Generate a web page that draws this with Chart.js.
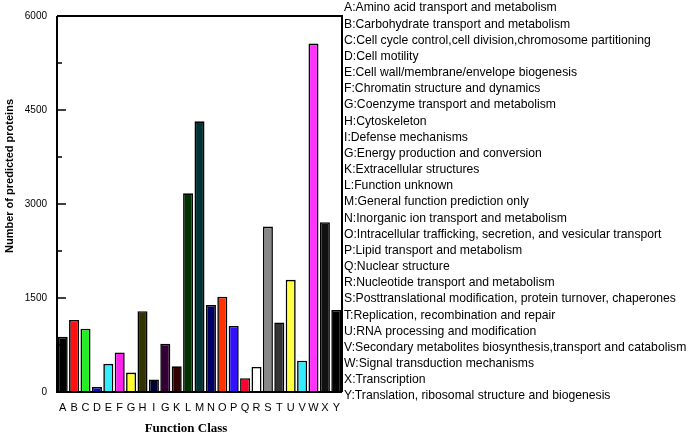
<!DOCTYPE html>
<html><head><meta charset="utf-8">
<script src="https://cdn.jsdelivr.net/npm/chart.js@4/dist/chart.umd.min.js"></script>
<style>html,body{margin:0;padding:0;background:#fff;}#wrap{width:697px;height:436px;position:relative;}</style>
</head><body><div id="wrap"><canvas id="c" width="697" height="436"></canvas></div>
<script>
const categories = ["A","B","C","D","E","F","G","H","I","G","K","L","M","N","O","P","Q","R","S","T","U","V","W","X","Y"];
const values = [880,1150,1010,80,450,630,310,1290,200,770,410,3170,4320,1390,1520,1055,220,400,2640,1110,1790,500,5560,2710,1310];
const barColors = ["#000000","#ff1111","#22ee22","#0a0acc","#33eeff","#ff22ee","#ffff33","#333300","#000033","#330033","#330000","#003300","#003333","#000066","#ff3300","#3311ff","#ff0033","#ffffff","#888888","#333333","#ffff44","#33eeff","#ff33ff","#111111","#000000"];
const yTicks = [0,1500,3000,4500,6000];
const minorTicks = [750,2250,3750,5250];
const legendLines = [
"A:Amino acid transport and metabolism",
"B:Carbohydrate transport and metabolism",
"C:Cell cycle control,cell division,chromosome partitioning",
"D:Cell motility",
"E:Cell wall/membrane/envelope biogenesis",
"F:Chromatin structure and dynamics",
"G:Coenzyme transport and metabolism",
"H:Cytoskeleton",
"I:Defense mechanisms",
"G:Energy production and conversion",
"K:Extracellular structures",
"L:Function unknown",
"M:General function prediction only",
"N:Inorganic ion transport and metabolism",
"O:Intracellular trafficking, secretion, and vesicular transport",
"P:Lipid transport and metabolism",
"Q:Nuclear structure",
"R:Nucleotide transport and metabolism",
"S:Posttranslational modification, protein turnover, chaperones",
"T:Replication, recombination and repair",
"U:RNA processing and modification",
"V:Secondary metabolites biosynthesis,transport and catabolism",
"W:Signal transduction mechanisms",
"X:Transcription",
"Y:Translation, ribosomal structure and biogenesis"];
const yTitle = "Number of predicted proteins";
const xTitle = "Function Class";

const decor = {
  id: 'decor',
  afterDraw(chart) {
    const ctx = chart.ctx, a = chart.chartArea, ys = chart.scales.y;
    ctx.save();
    ctx.strokeStyle = '#000';
    ctx.lineWidth = 2;
    ctx.beginPath();
    ctx.moveTo(a.left, a.top); ctx.lineTo(a.right, a.top); ctx.lineTo(a.right, a.bottom);
    ctx.moveTo(a.left, a.top); ctx.lineTo(a.left, a.bottom); ctx.lineTo(a.right, a.bottom);
    ctx.stroke();
    ctx.lineWidth = 1.5;
    ctx.beginPath();
    yTicks.forEach(v => { const y = ys.getPixelForValue(v); ctx.moveTo(a.left, y); ctx.lineTo(a.left + 9, y); });
    minorTicks.forEach(v => { const y = ys.getPixelForValue(v); ctx.moveTo(a.left, y); ctx.lineTo(a.left + 5, y); });
    ctx.stroke();
    ctx.fillStyle = '#000';
    ctx.font = 'bold 11px "Liberation Sans", Arial, sans-serif';
    ctx.textAlign = 'center'; ctx.textBaseline = 'middle';
    ctx.translate(10, 176); ctx.rotate(-Math.PI/2);
    ctx.fillText(yTitle, 0, 0);
    ctx.setTransform(1,0,0,1,0,0);
    ctx.font = 'bold 13px "Liberation Serif", "Times New Roman", serif';
    ctx.fillText(xTitle, 186, 429);
    ctx.font = '12.2px "Liberation Sans", Arial, sans-serif';
    ctx.textAlign = 'left';
    legendLines.forEach((t, i) => ctx.fillText(t, 344, 8 + i * 16.17));
    ctx.restore();
  }
};

new Chart(document.getElementById('c'), {
  type: 'bar',
  data: { labels: categories, datasets: [{ data: values, backgroundColor: barColors, borderColor: '#000', borderWidth: 1.6, barPercentage: 0.88, categoryPercentage: 1 }] },
  options: {
    responsive: false, animation: false,
    layout: { padding: { left: 0, top: 6, right: 355, bottom: 0 } },
    plugins: { legend: { display: false }, tooltip: { enabled: false } },
    scales: {
      x: {
        grid: { display: false, drawTicks: false }, border: { display: false },
        ticks: { color: '#000', font: { size: 11, family: '"Liberation Sans", Arial, sans-serif' }, padding: 9, maxRotation: 0, autoSkip: false },
        afterFit(s) { s.height = 44; }
      },
      y: {
        min: 0, max: 6000,
        grid: { display: false, drawTicks: false }, border: { display: false },
        afterBuildTicks(s) { s.ticks = yTicks.map(v => ({ value: v })); },
        ticks: { color: '#000', font: { size: 10, family: '"Liberation Sans", Arial, sans-serif' }, padding: 10, callback: v => String(v) },
        afterFit(s) { s.width = 57; }
      }
    }
  },
  plugins: [decor]
});
</script></body></html>
